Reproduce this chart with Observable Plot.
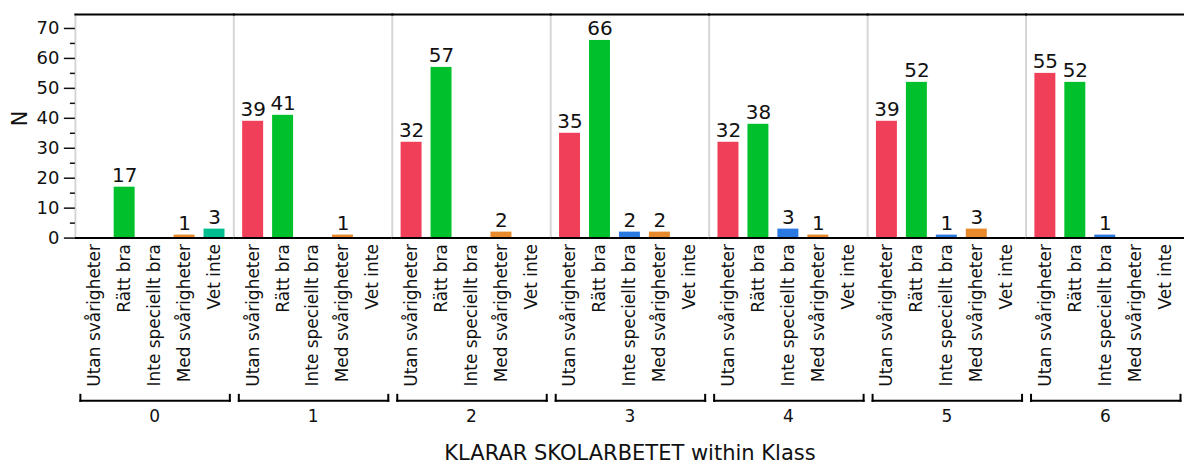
<!DOCTYPE html>
<html>
<head>
<meta charset="utf-8">
<script src="https://cdn.jsdelivr.net/npm/d3@7"></script>
<script src="https://cdn.jsdelivr.net/npm/@observablehq/plot@0.6"></script>
<style>
  html, body { margin: 0; padding: 0; background: #fff; overflow: hidden; }
  #wrap { position: relative; width: 1184px; height: 464px; overflow: hidden; font-family: "DejaVu Sans", sans-serif; }
  #title { position: absolute; left: 75px; width: 1110px; top: 443px; text-align: center; font-size: 21px; line-height: 20px; color: #111; white-space: nowrap; }
</style>
</head>
<body>
<div id="wrap"><div id="chart"></div><div id="title">KLARAR SKOLARBETET within Klass</div></div>
<script>
const groups = ["0", "1", "2", "3", "4", "5", "6"];
const categories = ["Utan svårigheter", "Rätt bra", "Inte speciellt bra", "Med svårigheter", "Vet inte"];
const colors = ["#f03f58", "#00c02b", "#2b7ae2", "#e8892b", "#00be90"];
// values per group, in category order (null = no bar)
const utan    = [null, 39, 32, 35, 32, 39, 55];
const rattBra = [17, 41, 57, 66, 38, 52, 52];
const inteSp  = [null, null, null, 2, 3, 1, 1];
const med     = [1, 1, 2, 2, 1, 3, null];
const vetInte = [3, null, null, null, null, null, null];
const yTicks = [0, 10, 20, 30, 40, 50, 60, 70];
const yMinorTicks = [5, 15, 25, 35, 45, 55, 65];

const series = [utan, rattBra, inteSp, med, vetInte];
const data = [];
groups.forEach((g, gi) => {
  categories.forEach((c, ci) => {
    const v = series[ci][gi];
    if (v != null) data.push({klass: g, cat: c, n: v});
  });
});

const chart = Plot.plot({
  width: 1186,
  height: 440,
  marginLeft: 75,
  marginRight: 0,
  marginTop: 14,
  marginBottom: 202,
  style: {fontFamily: "DejaVu Sans, sans-serif", color: "#111", background: "#fff"},
  fx: {domain: groups, padding: 0, round: false},
  x: {domain: categories, paddingInner: 0.3, paddingOuter: 0.295, round: false},
  y: {domain: [0, 74.67]},
  color: {domain: categories, range: colors},
  marks: [
    Plot.frame({anchor: "left", stroke: "#d6d6d6", strokeWidth: 2}),
    Plot.frame({anchor: "top", stroke: "#000", strokeWidth: 2}),
    Plot.barY(data, {fx: "klass", x: "cat", y: "n", fill: "cat"}),
    Plot.text(data, {fx: "klass", x: "cat", y: "n", text: d => String(d.n), lineAnchor: "bottom", dy: -5, fontSize: 20, fill: "#111"}),
    Plot.ruleY([0], {stroke: "#000", strokeWidth: 2}),
    Plot.axisY({ticks: yMinorTicks, tickSize: 5, tickFormat: () => "", label: null, strokeWidth: 1.5}),
    Plot.axisY({ticks: yTicks, tickSize: 11, tickPadding: 5, fontSize: 18, label: null, strokeWidth: 1.5}),
    Plot.text(["N"], {fx: () => "0", text: d => d, frameAnchor: "left", dx: -55, rotate: -90, fontSize: 21, fill: "#111"}),
    Plot.ruleX([0], {fx: () => "0", frameAnchor: "left", stroke: "#000", strokeWidth: 2}),
    Plot.axisX({tickRotate: -90, tickSize: 0, tickPadding: 6, fontSize: 17, label: null}),
    Plot.axisFx({anchor: "bottom", tickSize: 0, tickPadding: 172, fontSize: 17, label: null}),
    // bracket under each group
    Plot.frame({anchor: "bottom", dy: 163, insetLeft: 5, insetRight: 4, stroke: "#000", strokeWidth: 2}),
    Plot.frame({anchor: "left", dy: 163, insetTop: 218, insetLeft: 5, stroke: "#000", strokeWidth: 2}),
    Plot.frame({anchor: "right", dy: 163, insetTop: 218, insetRight: 4, stroke: "#000", strokeWidth: 2})
  ]
});
document.getElementById("chart").appendChild(chart);
</script>
</body>
</html>
